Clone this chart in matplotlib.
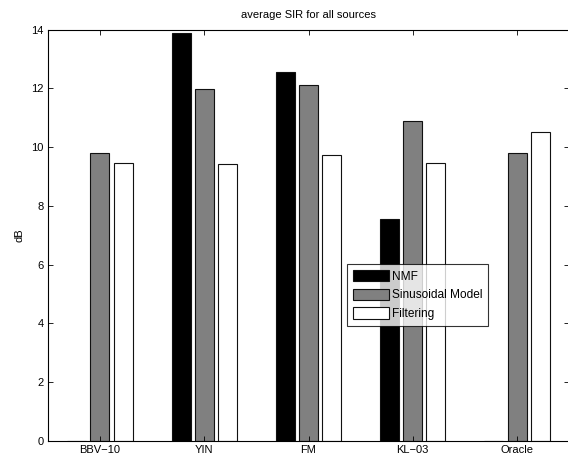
import matplotlib
matplotlib.use("Agg")
import matplotlib.pyplot as plt
import numpy as np

plt.rcParams['font.family'] = ['Liberation Sans', 'DejaVu Sans']

categories = ['BBV\u221210', 'YIN', 'FM', 'KL\u221203', 'Oracle']
series_names = ['NMF', 'Sinusoidal Model', 'Filtering']
nmf = [0.0, 13.89, 12.56, 7.55, 0.0]
sinusoidal = [9.81, 11.98, 12.10, 10.87, 9.81]
filtering = [9.45, 9.44, 9.72, 9.45, 10.51]
colors = ['#000000', '#808080', '#ffffff']
yticks = [0, 2, 4, 6, 8, 10, 12, 14]

W, H = 568, 458
fig = plt.figure(figsize=(W / 100, H / 100), dpi=100)
left, right, top, bottom = 47.8, 569.2, 29.5, 441.0
ax = fig.add_axes([left / W, 1 - bottom / H, (right - left) / W, (bottom - top) / H])

x = np.arange(1, len(categories) + 1)
width = 0.182
offset = 0.222
for i, (vals, name, c) in enumerate(zip([nmf, sinusoidal, filtering], series_names, colors)):
    ax.bar(x + (i - 1) * offset, vals, width, color=c, edgecolor='#111111',
           linewidth=0.8, label=name)

ax.set_xlim(0.5, 5.5)
ax.set_ylim(0, 14)
ax.set_xticks(x)
ax.set_xticklabels(categories)
ax.set_yticks(yticks)
ax.tick_params(direction='in', length=3.4, width=0.6, labelsize=8, top=True, right=True,
               pad=3)
for s in ax.spines.values():
    s.set_linewidth(0.8)
ax.set_ylabel('dB', fontsize=8, labelpad=5)
ax.set_title('average SIR for all sources', fontsize=8, pad=8)

leg = ax.legend(loc='upper left', bbox_to_anchor=(0.574, 0.430), borderaxespad=0,
                fontsize=8.6, frameon=True, fancybox=False, edgecolor='black',
                handlelength=3.0, handleheight=1.08, handletextpad=0.25,
                labelspacing=0.5, borderpad=0.5)
leg.get_frame().set_linewidth(0.8)

fig.savefig('out.png', dpi=100)
